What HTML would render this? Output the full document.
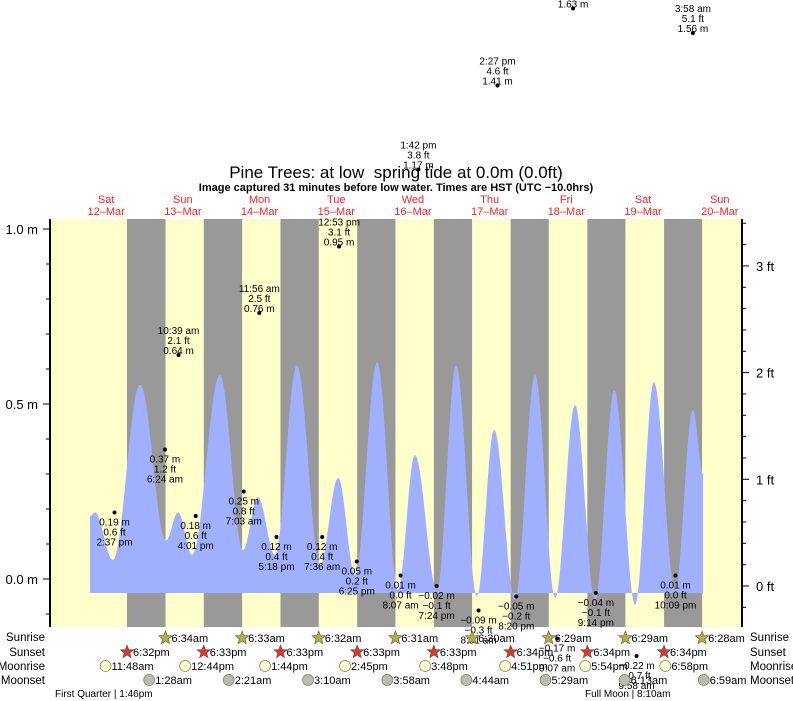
<!DOCTYPE html>
<html><head><meta charset="utf-8">
<style>
body{margin:0;background:#fff;}
svg{display:block;font-family:"Liberation Sans",sans-serif;}
</style></head>
<body>
<svg id="chart" width="793" height="701" viewBox="0 0 793 701" xmlns="http://www.w3.org/2000/svg">
<rect x="0" y="0" width="793" height="701" fill="#fff"/>
<g id="bands"></g>
<g id="curve"></g>
<g id="axes"></g>
<g id="annots"></g>
<g id="days"></g>
<g id="astro"></g>
<text x="396" y="178" text-anchor="middle" font-size="17" fill="#000" style="white-space:pre">Pine Trees: at low&#160; spring tide at 0.0m (0.0ft)</text>
<text x="396" y="191" text-anchor="middle" font-size="11" font-weight="bold" fill="#000">Image captured 31 minutes before low water. Times are HST (UTC −10.0hrs)</text>
<text x="55" y="697" font-size="10" fill="#000">First Quarter | 1:46pm</text>
<text x="585" y="697" font-size="10" fill="#000">Full Moon | 8:10am</text>
</svg>
<script>
// ---- data ----
const dayNames = ["Sat","Sun","Mon","Tue","Wed","Thu","Fri","Sat","Sun"];
const dayDates = ["12–Mar","13–Mar","14–Mar","15–Mar","16–Mar","17–Mar","18–Mar","19–Mar","20–Mar"];
// curve extrema: hours since Sat 12-Mar 00:00, heights in metres
const curveHours = [6.95,8.5,14.1,22.6,30.7,34.5,38.9,47.6,54.8,59.5,64.8,71.7,78.9,84.6,89.9,96.8,103.3,108.6,115.5,121.5,128.0,133.4,139.9,146.2,152.5,158.7,165.0,171.0,177.5,183.4,190.0,195.6,198.8];
const curveHeights = [0.18,0.19,0.054,0.556,0.11,0.19,0.069,0.583,0.083,0.234,0.069,0.611,0.04,0.289,0.011,0.62,-0.031,0.354,-0.031,0.611,-0.05,0.426,-0.06,0.583,-0.054,0.497,-0.06,0.54,-0.074,0.563,-0.031,0.483,0.3];
// annotated tide events
const evHours = [14.62,30.4,34.65,40.02,55.05,59.93,65.3,79.6,84.88,90.42,104.12,109.7,115.4,128.52,134.45,140.33,153.12,158.1,165.23,177.97,190.15,195.6];
const evMetres = [0.19,0.37,0.64,0.18,0.25,0.76,0.12,0.12,0.95,0.05,0.01,1.17,-0.02,-0.09,1.41,-0.05,-0.17,1.63,-0.04,-0.22,0.01,1.56];
const evFeet = ["0.6","1.2","2.1","0.6","0.8","2.5","0.4","0.4","3.1","0.2","0.0","3.8","−0.1","−0.3","4.6","−0.2","−0.6","5.3","−0.1","−0.7","0.0","5.1"];
const evTimes = ["2:37 pm","6:24 am","10:39 am","4:01 pm","7:03 am","11:56 am","5:18 pm","7:36 am","12:53 pm","6:25 pm","8:07 am","1:42 pm","7:24 pm","8:31 am","2:27 pm","8:20 pm","9:07 am","2:06 pm","9:14 pm","9:58 am","10:09 pm","3:58 am"];
const evIsHigh = [0,0,1,0,0,1,0,0,1,0,0,1,0,0,1,0,0,1,0,0,0,1];
// sun and moon (hours since Sat 00:00)
const sunriseHours = [30.57,54.55,78.53,102.52,126.5,150.48,174.48,198.47];
const sunriseLabels = ["6:34am","6:33am","6:32am","6:31am","6:30am","6:29am","6:29am","6:28am"];
const sunsetHours = [18.53,42.55,66.55,90.55,114.55,138.57,162.57,186.57];
const sunsetLabels = ["6:32pm","6:33pm","6:33pm","6:33pm","6:33pm","6:34pm","6:34pm","6:34pm"];
const moonriseHours = [11.8,36.73,61.73,86.75,111.8,136.85,161.9,186.97];
const moonriseLabels = ["11:48am","12:44pm","1:44pm","2:45pm","3:48pm","4:51pm","5:54pm","6:58pm"];
const moonsetHours = [25.47,50.35,75.17,99.97,124.73,149.48,174.22,198.98];
const moonsetLabels = ["1:28am","2:21am","3:10am","3:58am","4:44am","5:29am","6:13am","6:59am"];

// ---- scales ----
const X0 = 67.8, PXH = 76.7/24;
const xs = h => X0 + h*PXH;
const ym = m => 579 - m*350;
const yft = f => 586 - f*106.7;
const PL = 50, PR = 742, PT = 219, PB = 627;
const NS = "http://www.w3.org/2000/svg";
function mk(tag, attrs, parent, txt){
  const e = document.createElementNS(NS, tag);
  for (const k in attrs) e.setAttribute(k, attrs[k]);
  if (txt !== undefined) e.textContent = txt;
  parent.appendChild(e); return e;
}
const G = id => document.getElementById(id);

// bands
const bands = G('bands');
let r = mk('rect',{x:PL,y:PT,width:PR-PL,height:PB-PT,fill:'#ffffcc'},bands);


for (let i=0;i<sunsetHours.length;i++){
  const x1 = xs(sunsetHours[i]), x2 = xs(sunriseHours[i]);
  const n = mk('rect',{x:x1,y:PT,width:x2-x1,height:PB-PT,fill:'#999999'},bands);
  
  
}

// curve (cosine interpolation between extrema)
const pts = [];
for (let i=0;i<curveHours.length-1;i++){
  const h0=curveHours[i], h1=curveHours[i+1], v0=curveHeights[i], v1=curveHeights[i+1];
  const steps = 20;
  for (let s=0;s<steps;s++){
    const t=s/steps, h=h0+(h1-h0)*t, v=v0+(v1-v0)*(1-Math.cos(Math.PI*t))/2;
    pts.push([xs(h), ym(v)]);
  }
}
pts.push([xs(curveHours[curveHours.length-1]), ym(curveHeights[curveHeights.length-1])]);
const base = ym(-0.04);
let d = 'M'+pts[0][0].toFixed(1)+','+base.toFixed(1);
pts.forEach(p=>{ d += ' L'+p[0].toFixed(1)+','+p[1].toFixed(1); });
d += ' L'+pts[pts.length-1][0].toFixed(1)+','+base.toFixed(1)+' Z';
const cp = mk('path',{d:d,fill:'#a0b0ff'},G('curve'));



// axes
const ax = G('axes');
let l = mk('line',{x1:PL,y1:PT,x2:PL,y2:PB,stroke:'#000','stroke-width':2},ax);


l = mk('line',{x1:PR,y1:PT,x2:PR,y2:PB,stroke:'#000','stroke-width':2},ax);


const mTicks = [-0.1,0,0.1,0.2,0.3,0.4,0.5,0.6,0.7,0.8,0.9,1.0];
mTicks.forEach(m=>{
  const y = ym(m), major = Math.abs(m*2-Math.round(m*2))<1e-6;
  const t = mk('line',{x1:major?PL-7:PL-4,y1:y,x2:PL,y2:y,stroke:'#000'},ax);
  
  
  if (major){
    const tx = mk('text',{x:PL-12,y:y+5,'text-anchor':'end','font-size':13},ax,m.toFixed(1)+' m');
    
    
  }
});
for (let k=-1;k<=17;k++){
  const f = k*0.2, y = yft(f);
  if (y<PT||y>PB) continue;
  const major = k%5===0;
  const t = mk('line',{x1:PR,y1:y,x2:major?PR+7:PR+4,y2:y,stroke:'#000'},ax);
  
  
  if (major){
    const tx = mk('text',{x:PR+14,y:y+5,'font-size':13},ax,Math.round(f)+' ft');
    
    
  }
}

// annotations
const an = G('annots');
for (let i=0;i<evHours.length;i++){
  const x = xs(evHours[i]), y = ym(evMetres[i]);
  const dot = mk('circle',{cx:x,cy:y,r:2,fill:'#000'},an);
  
  
  const lines = evIsHigh[i] ? [evTimes[i], evFeet[i]+' ft', evMetres[i].toFixed(2)+' m'] : [evMetres[i].toFixed(2).replace('-','−')+' m', evFeet[i]+' ft', evTimes[i]];
  const y0 = evIsHigh[i] ? y-21 : y+13;
  lines.forEach((s,j)=>{
    const t = mk('text',{x:x,y:y0+j*10,'text-anchor':'middle','font-size':10},an,s);
    
    
  });
}

// day labels
const dg = G('days');
for (let i=0;i<dayNames.length;i++){
  const x = xs(i*24+12);
  const a = mk('text',{x:x,y:203,'text-anchor':'middle','font-size':11,fill:'#ff2020'},dg,dayNames[i]);
  
  
  const b = mk('text',{x:x,y:215,'text-anchor':'middle','font-size':11,fill:'#ff2020'},dg,dayDates[i]);
  
  
}

// astronomy rows
const as = G('astro');
const rows = [["Sunrise",637],["Sunset",652],["Moonrise",666],["Moonset",680]];
rows.forEach(rw=>{
  const a = mk('text',{x:45,y:rw[1]+4,'text-anchor':'end','font-size':11.5},as,rw[0]);
  
  
  const b = mk('text',{x:750,y:rw[1]+4,'font-size':11.5},as,rw[0]);
  
  
});
function star(cx,cy,fill){
  let p='';
  for(let k=0;k<10;k++){const a=-Math.PI/2+k*Math.PI/5,rr=k%2?3:7;p+=(cx+rr*Math.cos(a)).toFixed(1)+','+(cy+rr*Math.sin(a)).toFixed(1)+' ';}
  return mk('polygon',{points:p,fill:fill,stroke:'#555','stroke-width':0.6},as);
}
function row(hours,labels,cy,kind){
  for(let i=0;i<hours.length;i++){
    const x = xs(hours[i]);
    let m;
    if(kind==='rise') m = star(x,cy,'#b5b03a');
    else if(kind==='set') m = star(x,cy,'#d83a2a');
    else m = mk('circle',{cx:x,cy:cy,r:5.5,fill:kind==='mrise'?'#ffffc8':'#bbbbb0',stroke:'#777','stroke-width':0.7},as);
    
    
    const t = mk('text',{x:x+6,y:cy+4,'font-size':11},as,labels[i]);
    
    
  }
}
row(sunriseHours,sunriseLabels,638,'rise');
row(sunsetHours,sunsetLabels,652,'set');
row(moonriseHours,moonriseLabels,666,'mrise');
row(moonsetHours,moonsetLabels,680,'mset');
</script>
</body></html>
